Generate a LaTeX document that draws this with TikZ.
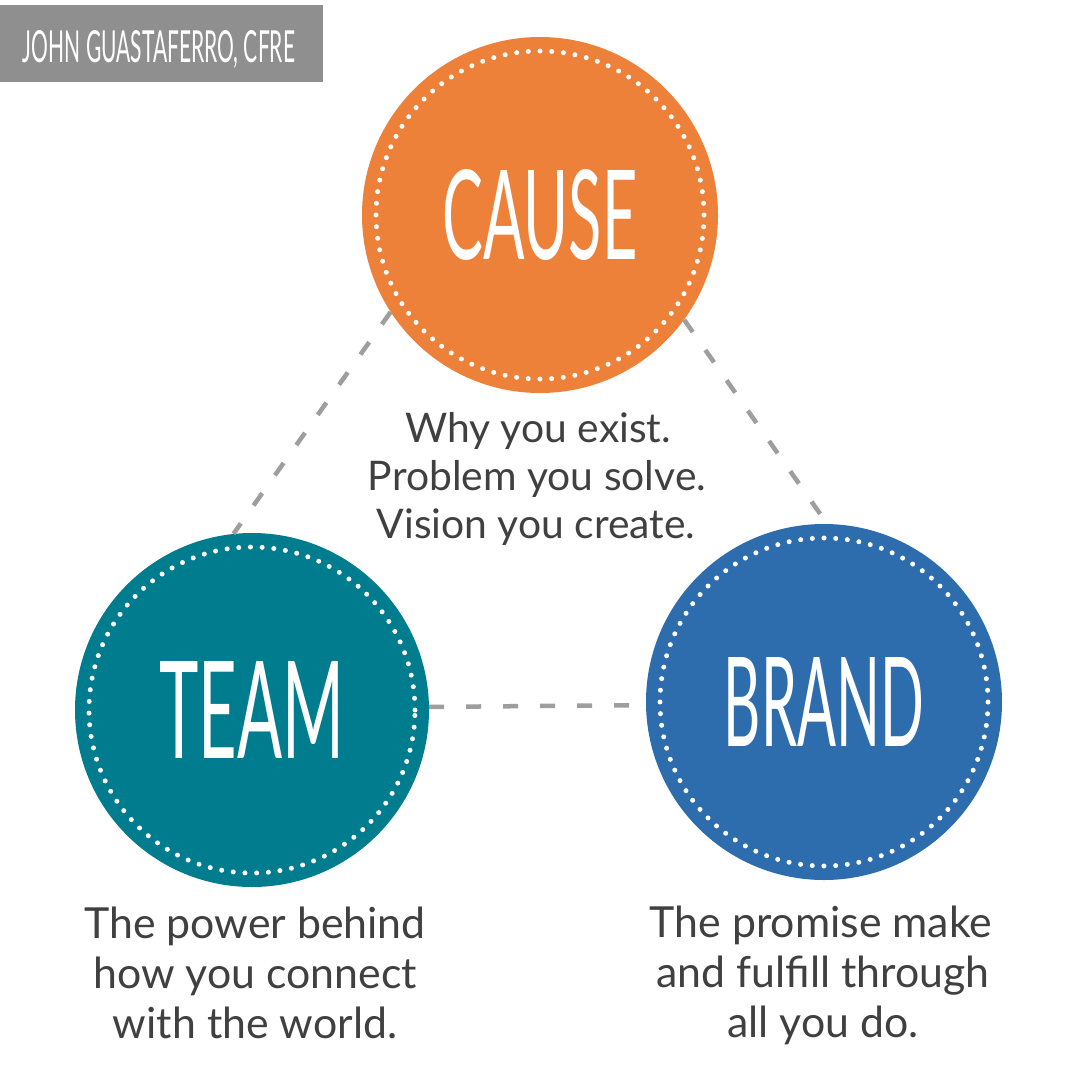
\documentclass[tikz,border=0pt]{standalone}
\usepackage{fontspec}
\setmainfont{Lato}
\usepackage{graphicx}
\definecolor{causeorange}{RGB}{237,129,57}
\definecolor{teamteal}{RGB}{0,124,143}
\definecolor{brandblue}{RGB}{45,108,173}
\definecolor{taggray}{RGB}{143,143,143}
\definecolor{bodygray}{RGB}{64,64,64}
\definecolor{linkgray}{RGB}{158,158,158}
\begin{document}
\begin{tikzpicture}[x=1pt,y=-1pt,
  disc/.style={circle, inner sep=0pt, minimum size=356pt, text=white},
  ring/.style={draw=white, line width=5pt, line cap=round, dash pattern=on 0pt off 11.71pt},
  link/.style={draw=linkgray, line width=4.5pt, dash pattern=on 15pt off 22pt},
  body/.style={anchor=base, inner sep=0pt, text=bodygray, font=\fontsize{40.8}{48}\selectfont},
  bodybig/.style={body, font=\fontsize{42.8}{50}\selectfont},
  tagbox/.style={fill=taggray, inner sep=0pt, minimum width=323pt, minimum height=77pt}]
\fill[white] (0,0) rectangle (1080,1080);
\useasboundingbox (0,0) rectangle (1080,1080);

% author tag
\node[tagbox] (tag) at (161.5,43.5) {};
\node[anchor=base, inner sep=0pt, text=white] (author) at (159,62) {\resizebox{272pt}{32pt}{JOHN GUASTAFERRO, CFRE}};

% circles
\node[disc, fill=causeorange] (cause) at (540,215) {\resizebox{195pt}{90pt}{CAUSE}};
\node[disc, fill=teamteal, minimum size=354pt] (team) at (252,710) {\resizebox{185pt}{97pt}{TEAM}};
\node[disc, fill=brandblue] (brand) at (824,702) {\resizebox{200pt}{89pt}{BRAND}};

% dotted rings
\draw[ring] (cause.center) circle (164pt);
\draw[ring] (team.center) circle (163pt);
\draw[ring] (brand.center) circle (164pt);

% connectors
\draw[link] (cause.213) -- (team.96);
\draw[link] (cause.324) -- (brand.89);
\draw[link] (team.1) -- (brand.181);

% texts
\node[body] (c1) at (538,442) {Why you exist.};
\node[body] (c2) at (537,490) {Problem you solve.};
\node[body] (c3) at (536,538) {Vision you create.};

\node[bodybig] (t1) at (255,938) {The power behind};
\node[bodybig] (t2) at (255,988) {how you connect};
\node[bodybig] (t3) at (255,1038) {with the world.};

\node[bodybig] (b1) at (821,937) {The promise make};
\node[bodybig] (b2) at (823,987) {and fulfill through};
\node[bodybig] (b3) at (823,1037) {all you do.};
\end{tikzpicture}
\end{document}
